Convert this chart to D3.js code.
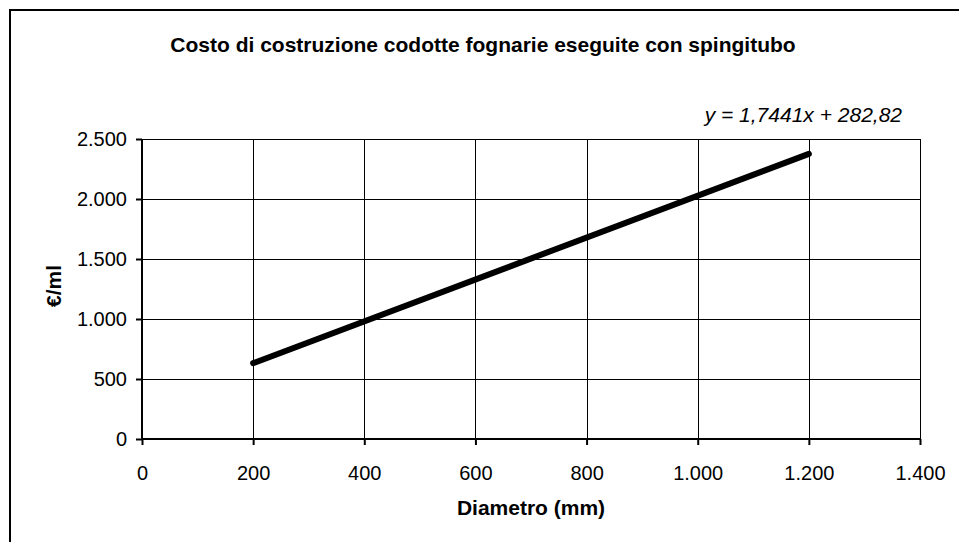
<!DOCTYPE html>
<html>
<head>
<meta charset="utf-8">
<script src="https://cdn.jsdelivr.net/npm/d3@7"></script>
<style>
  body { margin: 0; background: #fff; }
  text { font-family: "Liberation Sans", Arial, sans-serif; fill: #000; }
</style>
</head>
<body>
<div id="chart"></div>
<script>
// Data
var diameters = [200, 1200];          // mm, ends of the plotted line
var costs = [632, 2376];              // €/ml at those diameters
var xTicks = [0, 200, 400, 600, 800, 1000, 1200, 1400];
var yTicks = [0, 500, 1000, 1500, 2000, 2500];
var chartTitle = "Costo di costruzione codotte fognarie eseguite con spingitubo";
var trendLabel = "y = 1,7441x + 282,82";
var xLabel = "Diametro (mm)";
var yLabel = "€/ml";

var attrs = {
    svgWidth: 959,
    svgHeight: 542,
    plotLeft: 142,
    plotRight: 920,
    plotTop: 139,
    plotBottom: 439,
    tickFont: "20px",
    labelFont: "21px"
};

// Italian number format: dot as thousands separator
var fmt = function (d) { return d3.format(",")(d).replace(/,/g, "."); };

var svg = d3.select("#chart").append("svg")
    .attr("width", attrs.svgWidth)
    .attr("height", attrs.svgHeight);

// outer frame (right/bottom edges fall outside the view)
svg.append("rect")
    .attr("x", 10).attr("y", 10)
    .attr("width", 1000).attr("height", 1000)
    .attr("fill", "none").attr("stroke", "#000").attr("stroke-width", 2);

var x = d3.scaleLinear().domain([0, 1400]).range([attrs.plotLeft, attrs.plotRight]);
var y = d3.scaleLinear().domain([0, 2500]).range([attrs.plotBottom, attrs.plotTop]);

// gridlines
svg.append("g").selectAll("line").data(xTicks.slice(1)).enter().append("line")
    .attr("x1", d => Math.round(x(d)) + 0.5).attr("x2", d => Math.round(x(d)) + 0.5)
    .attr("y1", attrs.plotTop).attr("y2", attrs.plotBottom)
    .attr("stroke", "#000").attr("stroke-width", 1);
svg.append("g").selectAll("line").data(yTicks.slice(1)).enter().append("line")
    .attr("y1", d => Math.round(y(d)) + 0.5).attr("y2", d => Math.round(y(d)) + 0.5)
    .attr("x1", attrs.plotLeft).attr("x2", attrs.plotRight)
    .attr("stroke", "#000").attr("stroke-width", 1);

// axes
var xAxis = d3.axisBottom(x).tickValues(xTicks).tickFormat(fmt).tickSize(6).tickPadding(21);
var yAxis = d3.axisLeft(y).tickValues(yTicks).tickFormat(fmt).tickSize(6).tickPadding(9);

var gx = svg.append("g")
    .attr("transform", "translate(0," + attrs.plotBottom + ")")
    .call(xAxis);
var gy = svg.append("g")
    .attr("transform", "translate(" + attrs.plotLeft + ",0)")
    .call(yAxis);

[gx, gy].forEach(function (g) {
    g.select(".domain").attr("stroke-width", 2);
    g.selectAll(".tick line").attr("stroke", "#000").attr("stroke-width", 2);
    g.selectAll(".tick text").style("font-size", attrs.tickFont).attr("font-family", null);
});
gx.select(".domain").attr("d", "M" + attrs.plotLeft + ",0H" + attrs.plotRight);
gy.select(".domain").attr("d", "M0," + attrs.plotBottom + "V" + attrs.plotTop);

// trend line
var line = d3.line().x(d => x(d[0])).y(d => y(d[1]));
svg.append("path")
    .datum(d3.zip(diameters, costs))
    .attr("d", line)
    .attr("fill", "none")
    .attr("stroke", "#000")
    .attr("stroke-width", 6)
    .attr("stroke-linecap", "round");

// texts
svg.append("text")
    .attr("x", 483).attr("y", 52)
    .attr("text-anchor", "middle")
    .style("font-size", attrs.labelFont).style("font-weight", "bold")
    .text(chartTitle);

svg.append("text")
    .attr("x", 902).attr("y", 122)
    .attr("text-anchor", "end")
    .style("font-size", attrs.labelFont).style("font-style", "italic")
    .text(trendLabel);

svg.append("text")
    .attr("x", 531).attr("y", 515)
    .attr("text-anchor", "middle")
    .style("font-size", attrs.labelFont).style("font-weight", "bold")
    .text(xLabel);

svg.append("text")
    .attr("transform", "translate(61," + 286 + ") rotate(-90)")
    .attr("text-anchor", "middle")
    .style("font-size", attrs.labelFont).style("font-weight", "bold")
    .text(yLabel);
</script>
</body>
</html>
